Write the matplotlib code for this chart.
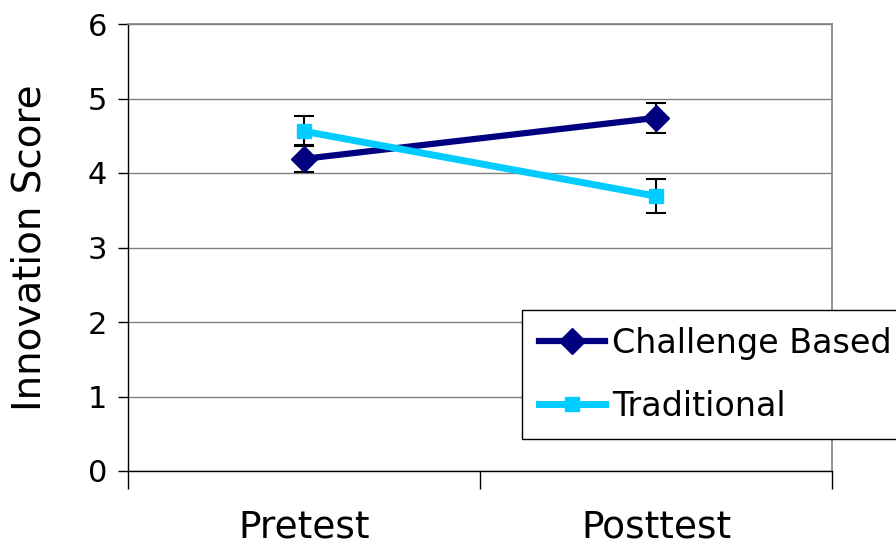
import matplotlib
matplotlib.use("Agg")
import matplotlib.pyplot as plt

categories = ["Pretest", "Posttest"]
challenge = [4.19, 4.74]
challenge_err = [0.18, 0.20]
traditional = [4.56, 3.69]
traditional_err = [0.20, 0.23]
yticks = [0, 1, 2, 3, 4, 5, 6]

plt.rcParams['font.family'] = ['DejaVu Sans']

fig = plt.figure(figsize=(8.96, 5.46), dpi=100)
ax = fig.add_axes([128/896, 1-471/546, 704/896, 447/546])

x = list(range(len(categories)))

ax.errorbar(x, challenge, yerr=challenge_err, fmt='none', ecolor='black',
            elinewidth=1.5, capsize=7, capthick=1.5, zorder=2)
ax.errorbar(x, traditional, yerr=traditional_err, fmt='none', ecolor='black',
            elinewidth=1.5, capsize=7, capthick=1.5, zorder=2)
ax.plot(x, challenge, color='#000080', lw=4.5, marker='D', markersize=13,
        label='Challenge Based', zorder=3)
ax.plot(x, traditional, color='#00CCFF', lw=5, marker='s', markersize=10,
        label='Traditional', zorder=4)

ax.set_xlim(-0.5, 1.5)
ax.set_ylim(0, 6)
ax.set_yticks(yticks)
ax.yaxis.grid(True, color='#808080', lw=1)
ax.set_axisbelow(True)

ax.set_xticks([-0.5, 0.5, 1.5])
ax.set_xticklabels([])
ax.set_xticks(x, minor=True)
ax.set_xticklabels(categories, minor=True, fontsize=27)
ax.tick_params(axis='x', which='minor', length=0, pad=28)
ax.tick_params(axis='x', which='major', length=13, width=1, direction='out')
ax.tick_params(axis='y', length=7, width=1, direction='out', labelsize=22, pad=8)

for s in ['left', 'bottom']:
    ax.spines[s].set_color('black')
    ax.spines[s].set_linewidth(1)
for s in ['top', 'right']:
    ax.spines[s].set_color('#808080')
    ax.spines[s].set_linewidth(1.2)

ax.set_ylabel('Innovation Score', fontsize=28)
ax.yaxis.set_label_coords(-0.113, 0.5)

leg = ax.legend(loc='upper left', bbox_to_anchor=(522/896, 1-310/546),
                bbox_transform=fig.transFigure, fontsize=24, frameon=True,
                fancybox=False, framealpha=1, edgecolor='black',
                borderaxespad=0, borderpad=0.5, handlelength=2.0,
                handletextpad=0.2, labelspacing=0.9)
leg.get_frame().set_linewidth(1)

fig.savefig('out.png', dpi=100)
